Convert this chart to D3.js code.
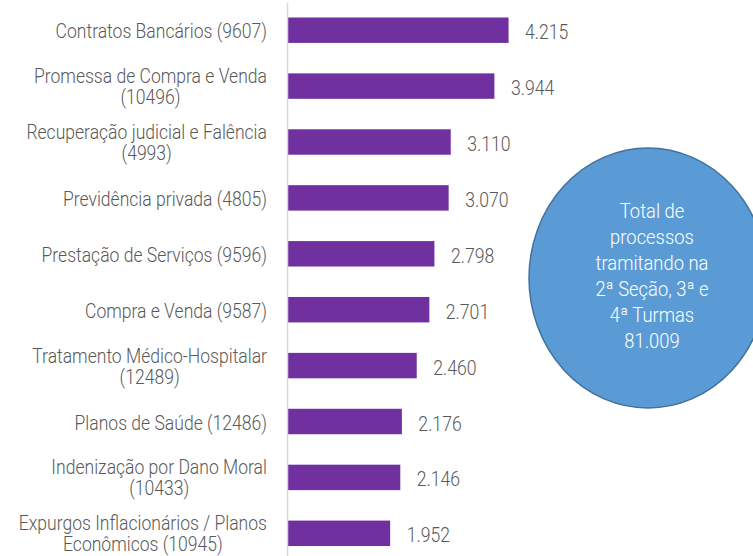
<!DOCTYPE html>
<html>
<head>
<meta charset="utf-8">
<script src="https://cdn.jsdelivr.net/npm/d3@7"></script>
<style>
  body { margin: 0; background: #fff; }
  svg { display: block; }
  text { font-family: Roboto, "Liberation Sans", sans-serif; font-weight: 300; }
</style>
</head>
<body>
<div id="chart"></div>
<script>
// categories (line breaks as in the original labels)
var categories = [
	'Contratos Bancários (9607)',
	'Promessa de Compra e Venda\n(10496)',
	'Recuperação judicial e Falência\n(4993)',
	'Previdência privada (4805)',
	'Prestação de Serviços (9596)',
	'Compra e Venda (9587)',
	'Tratamento Médico-Hospitalar\n(12489)',
	'Planos de Saúde (12486)',
	'Indenização por Dano Moral\n(10433)',
	'Expurgos Inflacionários / Planos\nEconômicos (10945)'
];
var values = [4215, 3944, 3110, 3070, 2798, 2701, 2460, 2176, 2146, 1952];
var totalLines = ['Total de', 'processos', 'tramitando na', '2ª Seção, 3ª e', '4ª Turmas'];
var total = 81009;

var width = 753, height = 556;

var locale = d3.formatLocale({decimal: ',', thousands: '.', grouping: [3], currency: ['R$', '']});
var fmt = locale.format(',d');

var svg = d3.select('#chart').append('svg')
	.attr('width', width)
	.attr('height', height);

var x = d3.scaleLinear().domain([0, 5000]).range([288, 549.65]);
var y = d3.scaleBand().domain(categories).range([2.25, 561.25])
	.paddingInner(0.545).paddingOuter(0.2725);

// the original font is a narrow one, so squeeze the text horizontally
function place(px, py, k) {
	return 'translate(' + px + ',' + py + ') scale(' + k + ',1)';
}

// bars
svg.append('g').selectAll('rect')
	.data(categories)
	.enter().append('rect')
	.attr('x', x(0))
	.attr('y', function(d) { return y(d); })
	.attr('width', function(d, i) { return x(values[i]) - x(0); })
	.attr('height', y.bandwidth())
	.attr('fill', '#7030a0');

// axis line
svg.append('line')
	.attr('x1', 287.5).attr('x2', 287.5)
	.attr('y1', 3).attr('y2', height)
	.attr('stroke', '#d9d9d9')
	.attr('stroke-width', 1.5);

// category labels: block right aligned, lines centred inside it
var labelSqueeze = 0.9;
var labels = svg.append('g').selectAll('g')
	.data(categories)
	.enter().append('g');
labels.each(function(d) {
	var g = d3.select(this);
	var c = y(d) + y.bandwidth() / 2;
	var lines = d.split('\n');
	var texts = lines.map(function(line, k) {
		return g.append('text')
			.attr('text-anchor', 'middle')
			.attr('fill', '#595959')
			.style('font-size', '19.5px')
			.text(line);
	});
	var w = d3.max(texts, function(t) { return t.node().getComputedTextLength(); }) * labelSqueeze;
	texts.forEach(function(t, k) {
		var py = lines.length > 1 ? c - 3 + k * 21 : c + 8;
		t.attr('transform', place(267 - w / 2, py, labelSqueeze));
	});
});

// value labels
svg.append('g').selectAll('text')
	.data(categories)
	.enter().append('text')
	.attr('fill', '#595959')
	.style('font-size', '20.5px')
	.attr('transform', function(d, i) {
		return place(x(values[i]) + 16.5, y(d) + y.bandwidth() / 2 + 9, 0.86);
	})
	.text(function(d, i) { return fmt(values[i]); });

// total bubble
var bubble = svg.append('g');
bubble.append('ellipse')
	.attr('cx', 648).attr('cy', 278)
	.attr('rx', 119).attr('ry', 130)
	.attr('fill', '#5b9bd5')
	.attr('stroke', '#41719c')
	.attr('stroke-width', 1.5);
bubble.selectAll('text')
	.data(totalLines.concat([fmt(total)]))
	.enter().append('text')
	.attr('text-anchor', 'middle')
	.attr('fill', '#ffffff')
	.style('font-size', '20px')
	.attr('transform', function(d, i) { return place(652, 218 + i * 26, 0.92); })
	.text(function(d) { return d; });
</script>
</body>
</html>
